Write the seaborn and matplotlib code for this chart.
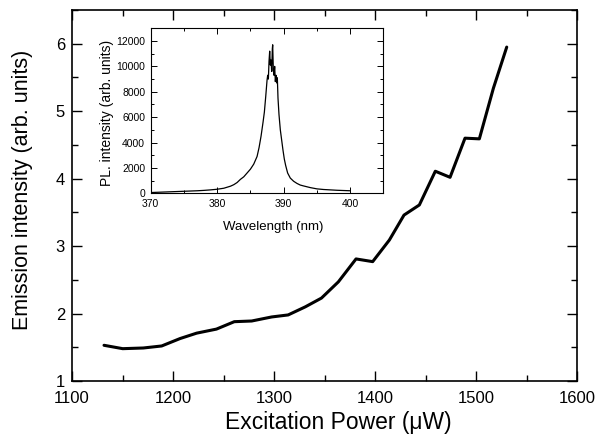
import numpy as np
import pandas as pd
import matplotlib
matplotlib.use("Agg")
import matplotlib.pyplot as plt
from matplotlib.ticker import MultipleLocator
import seaborn as sns

# main curve: emission vs excitation power
power_uw = [1131.7, 1150.2, 1170.6, 1188.8, 1207.0, 1223.4, 1243.0, 1260.7,
            1277.9, 1297.7, 1314.0, 1331.0, 1347.0, 1363.7, 1381.2, 1397.7,
            1414.2, 1428.7, 1443.9, 1459.7, 1474.3, 1489.1, 1503.3, 1517.2,
            1530.4]
emission = [1.53, 1.48, 1.49, 1.52, 1.63, 1.71, 1.77, 1.88,
            1.89, 1.95, 1.98, 2.10, 2.23, 2.47, 2.81, 2.77,
            3.09, 3.46, 3.61, 4.11, 4.02, 4.60, 4.59, 5.34,
            5.95]

# inset: PL spectrum
wavelength_nm = [370.0, 371.0, 372.0, 373.0, 374.0, 375.0, 376.0, 377.0,
                 378.0, 379.0, 380.0, 381.0, 382.0, 382.5, 383.0, 383.5,
                 384.0, 384.5, 385.0, 385.5, 386.0, 386.3, 386.6, 386.9,
                 387.1, 387.3, 387.5, 387.6, 387.7, 387.8, 387.9, 388.0,
                 388.1, 388.2, 388.3, 388.35, 388.45, 388.55, 388.65, 388.75,
                 388.85, 388.95, 389.05, 389.15, 389.3, 389.5, 389.7, 389.9,
                 390.1, 390.3, 390.6, 391.0, 391.5, 392.0, 392.5, 393.0,
                 394.0, 395.0, 396.0, 397.0, 398.0, 399.0, 400.0]
pl_intensity = [60, 80, 100, 120, 140, 160, 180, 200,
                230, 270, 320, 400, 560, 680, 850, 1100,
                1300, 1600, 1900, 2300, 2900, 3600, 4500, 5600,
                6400, 7600, 8900, 9300, 9000, 10400, 11200, 10100,
                10500, 9600, 11400, 11700, 9700, 9300, 10000, 8800,
                9300, 8700, 9100, 7500, 6200, 5000, 4200, 3400,
                2700, 2200, 1600, 1200, 950, 780, 650, 580,
                450, 350, 300, 270, 240, 220, 200]

sns.set_style("ticks")
plt.rcParams["font.family"] = ["Liberation Sans", "DejaVu Sans"]
plt.rcParams["xtick.direction"] = "in"
plt.rcParams["ytick.direction"] = "in"
for key in ["text.color", "axes.labelcolor", "xtick.color", "ytick.color",
            "axes.edgecolor"]:
    plt.rcParams[key] = "black"

fig = plt.figure(figsize=(6.0, 4.34), dpi=100)
ax = fig.add_axes([0.12, 0.122, 0.8417, 0.855])

df_main = pd.DataFrame({"power": power_uw, "emission": emission})
sns.lineplot(data=df_main, x="power", y="emission", ax=ax, color="black",
             linewidth=2.2, sort=False)

ax.set_xlim(1100, 1600)
ax.set_ylim(1, 6.5)
ax.xaxis.set_major_locator(MultipleLocator(100))
ax.xaxis.set_minor_locator(MultipleLocator(50))
ax.yaxis.set_major_locator(MultipleLocator(1))
ax.yaxis.set_minor_locator(MultipleLocator(0.5))
ax.tick_params(which="both", top=True, right=True, width=1.0, labelsize=12)
ax.tick_params(which="major", length=7)
ax.tick_params(which="minor", length=4)
ax.tick_params(axis="x", pad=7)
ax.tick_params(axis="y", pad=5)
for sp in ax.spines.values():
    sp.set_linewidth(1.2)
ax.set_xlabel("Excitation Power (\u03bcW)", fontsize=16.5)
ax.set_ylabel("Emission intensity (arb. units)", fontsize=15.5)
ax.xaxis.set_label_coords(0.527, -0.08)
ax.yaxis.set_label_coords(-0.077, 0.515)

# inset
axin = fig.add_axes([0.2512, 0.5546, 0.3877, 0.3802])
df_pl = pd.DataFrame({"wl": wavelength_nm, "pl": pl_intensity})
sns.lineplot(data=df_pl, x="wl", y="pl", ax=axin, color="black",
             linewidth=0.9, sort=False)
axin.set_xlim(370, 405)
axin.set_ylim(0, 13000)
axin.xaxis.set_major_locator(MultipleLocator(10))
axin.xaxis.set_minor_locator(MultipleLocator(5))
axin.yaxis.set_major_locator(MultipleLocator(2000))
axin.yaxis.set_minor_locator(MultipleLocator(1000))
axin.tick_params(which="both", top=True, right=True, width=0.7, labelsize=7.5)
axin.tick_params(which="major", length=4)
axin.tick_params(which="minor", length=2)
axin.tick_params(axis="x", pad=4)
axin.tick_params(axis="y", pad=4)
for sp in axin.spines.values():
    sp.set_linewidth(0.8)
axin.set_xlabel("Wavelength (nm)", fontsize=9.5)
axin.set_ylabel("PL. intensity (arb. units)", fontsize=10)
axin.xaxis.set_label_coords(0.526, -0.165)
axin.yaxis.set_label_coords(-0.16, 0.49)

fig.savefig("out.png", dpi=100)
